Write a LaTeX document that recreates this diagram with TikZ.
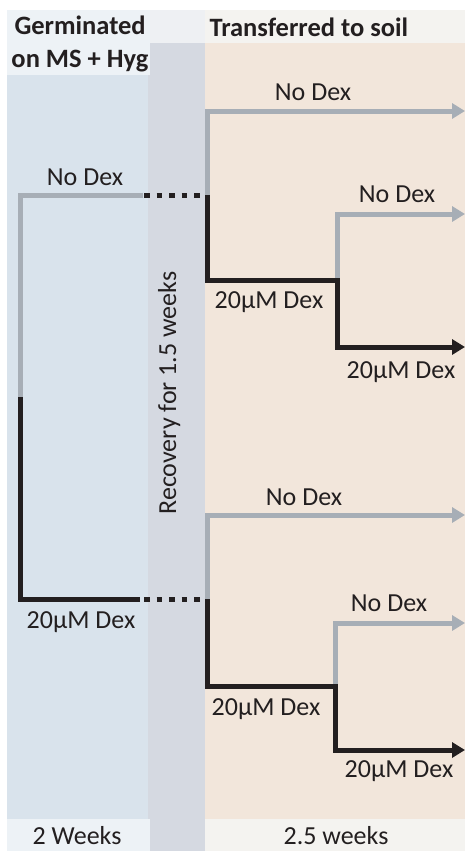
\documentclass[tikz,border=0pt]{standalone}
\usepackage{fontspec}
\setmainfont{Carlito}
\usetikzlibrary{arrows.meta,positioning}
\definecolor{hdrleft}{HTML}{EDF2F6}
\definecolor{hdrright}{HTML}{F4F3F0}
\definecolor{panelleft}{HTML}{D9E3EC}
\definecolor{panelmid}{HTML}{D5D9E1}
\definecolor{hdrmid}{HTML}{EEF0F3}
\definecolor{panelright}{HTML}{F2E6DB}
\definecolor{nodexgray}{HTML}{A7AEB6}
\definecolor{dexblack}{HTML}{231F20}
\tikzset{every picture/.style={line width=5pt}}
\tikzset{
    nodex/.style={draw=nodexgray},
    dex/.style={draw=dexblack},
    recov/.style={dex, dash pattern=on 5.5pt off 7pt},
    tip/.style={-{Triangle[length=13pt,width=15pt]}},
    lbl/.style={font=\fontsize{26}{31}\selectfont, text=dexblack, inner sep=0pt, anchor=base},
    hdr/.style={lbl, font=\fontsize{26.5}{32}\selectfont\bfseries, anchor=base west}
}

\begin{document}
\begin{tikzpicture}[x=1pt, y=-1pt]
    % panels
    \fill[white] (0,0) rectangle (465,851);
    \useasboundingbox (0,0) rectangle (465,851);
    \fill[panelmid] (148,10) rectangle (205,851);
    \fill[hdrmid] (148,10) rectangle (205,43);
    \fill[panelleft] (7,75) rectangle (148,819);
    \fill[hdrleft] (7,10) rectangle (150,75);
    \fill[hdrleft] (7,819) rectangle (150,851);
    \fill[panelright] (205,43) rectangle (465,819);
    \fill[hdrright] (205,10) rectangle (465,43);
    \fill[hdrright] (205,819) rectangle (465,851);

    % headers and footers
    \node[hdr] (h1) at (12,35) {Germinated};
    \node[hdr] (h2) at (9,67) {on MS + Hyg};
    \node[hdr] (h3) at (207,37) {Transferred to soil};
    \node[lbl] (f1) at (77,844) {2 Weeks};
    \node[lbl] (f2) at (336,844) {2.5 weeks};
    \node[lbl, rotate=90] (r) at (176,393) {Recovery for 1.5 weeks};

    % plate stage
    \coordinate (a0) at (20,195);
    \coordinate (a1) at (143,195);
    \coordinate (a2) at (20,397);
    \coordinate (a3) at (20,599);
    \coordinate (a4) at (140,599);
    \coordinate (d1) at (144,195);
    \coordinate (d2) at (203,195);
    \coordinate (d3) at (144,599);
    \coordinate (d4) at (203,599);
    \draw[nodex] (a1) -- (a0) -- (a2);
    \draw[dex] (a2) -- (a3) -- (a4);
    \draw[recov] (d1) -- (d2);
    \draw[recov] (d3) -- (d4);
    \node[lbl] (n1) at (85,185) {No Dex};
    \node[lbl] (m1) at (81,628) {20µM Dex};

    % soil stage, upper
    \coordinate (b0) at (207,195);
    \coordinate (b1) at (207,111);
    \coordinate (b2) at (465,111);
    \coordinate (b3) at (207,280);
    \coordinate (b4) at (337,280);
    \coordinate (b5) at (337,214);
    \coordinate (b6) at (465,214);
    \coordinate (b7) at (337,347);
    \coordinate (b8) at (465,347);
    \draw[nodex, tip] (b0) -- (b1) -- (b2);
    \draw[nodex, tip] (b4) -- (b5) -- (b6);
    \draw[dex, tip] (b0) -- (b3) -- (b4) -- (b7) -- (b8);
    \node[lbl] (n2) at (313,100) {No Dex};
    \node[lbl] (m2) at (269,308) {20µM Dex};
    \node[lbl] (n3) at (397,202) {No Dex};
    \node[lbl] (m3) at (401,378) {20µM Dex};

    % soil stage, lower
    \coordinate (c0) at (207,599);
    \coordinate (c1) at (207,515);
    \coordinate (c2) at (465,515);
    \coordinate (c3) at (207,686);
    \coordinate (c4) at (335,686);
    \coordinate (c5) at (335,623);
    \coordinate (c6) at (465,623);
    \coordinate (c7) at (335,750);
    \coordinate (c8) at (465,750);
    \draw[nodex, tip] (c0) -- (c1) -- (c2);
    \draw[nodex, tip] (c4) -- (c5) -- (c6);
    \draw[dex, tip] (c0) -- (c3) -- (c4) -- (c7) -- (c8);
    \node[lbl] (n4) at (304,505) {No Dex};
    \node[lbl] (m4) at (266,715) {20µM Dex};
    \node[lbl] (n5) at (389,611) {No Dex};
    \node[lbl] (m5) at (399,777) {20µM Dex};
\end{tikzpicture}
\end{document}
